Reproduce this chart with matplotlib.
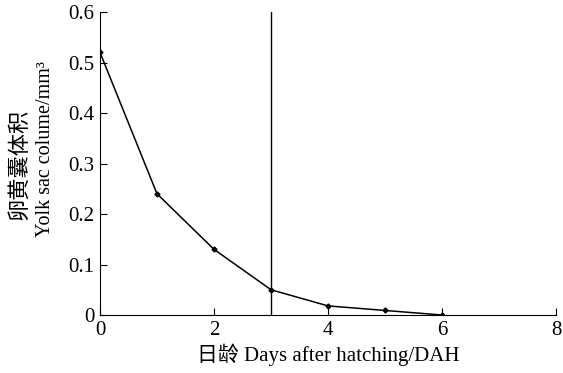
import matplotlib
matplotlib.use('Agg')
import matplotlib.pyplot as plt

# yolk sac volume per day after hatching
days = [0, 1, 2, 3, 4, 5, 6]
volume = [0.52, 0.24, 0.13, 0.05, 0.018, 0.009, 0.0]
x_ticks = [0, 2, 4, 6, 8]
y_ticks = [0, 0.1, 0.2, 0.3, 0.4, 0.5, 0.6]
y_tick_labels = ['0', '0.1', '0.2', '0.3', '0.4', '0.5', '0.6']
mark_day = 3

plt.rcParams['font.family'] = ['Liberation Serif', 'Noto Sans CJK SC']
plt.rcParams['font.size'] = 15

fig = plt.figure(figsize=(5.63, 3.73), dpi=100)
ax = fig.add_axes([0.1776, 0.1555, 0.81, 0.8123])

ax.plot(days, volume, color='black', linewidth=1.1, marker='D', markersize=2.5)
ax.plot([mark_day, mark_day], [0, 0.6], color='black', linewidth=1.0)

ax.set_xlim(0, 8)
ax.set_ylim(0, 0.6)
ax.set_xticks(x_ticks)
ax.set_xticklabels([str(t) for t in x_ticks])
ax.set_yticks(y_ticks)
ax.set_yticklabels(y_tick_labels)
ax.tick_params(direction='in', length=5, width=0.8, pad=4)

ax.spines['top'].set_visible(False)
ax.spines['right'].set_visible(False)

ax.set_xlabel('日龄 Days after hatching/DAH', labelpad=3)
# two-line y label: chinese on the outside, english next to the ticks
fig.text(0.035, 0.56, '卵黄囊体积', rotation=90, ha='center', va='center',
         fontsize=16)
fig.text(0.08, 0.60, 'Yolk sac colume/mm³', rotation=90, ha='center',
         va='center', fontsize=14.5)

plt.savefig('out.png', dpi=100)
